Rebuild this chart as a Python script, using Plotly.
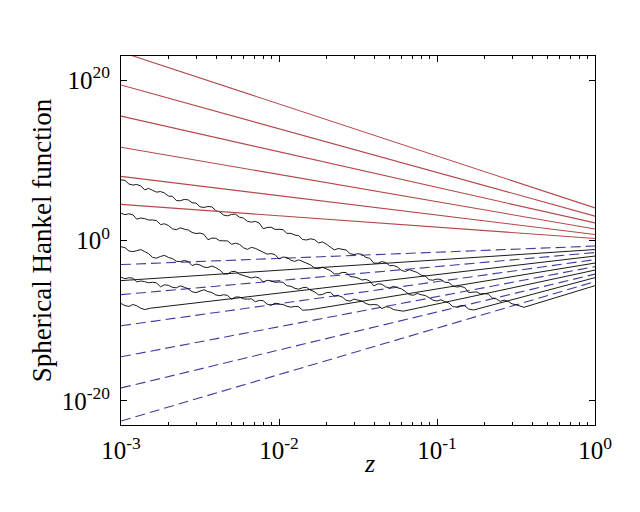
import plotly.graph_objects as go

# plot spans z = 10^-3 .. 10^0, all values below are log10 exponents
Z_LEFT = -3.0
Z_RIGHT = 0.0

# red solid lines (value at z=1e-3, value at z=1)
RED_LEFT = [4.50, 8.00, 11.63, 15.50, 19.38, 23.50]
RED_RIGHT = [0.25, 0.75, 1.44, 2.19, 3.04, 4.06]

# blue dashed lines
BLUE_LEFT = [-3.00, -6.75, -10.63, -14.50, -18.38, -22.50]
BLUE_RIGHT = [-0.69, -1.50, -2.38, -3.25, -4.19, -5.13]

# black lines: noisy at small z, then smooth up to z=1
BLACK_RIGHT = [-1.13, -1.94, -2.81, -3.69, -4.63, -5.63]
BLACK_START_Z = [-3.000, -2.813, -1.805, -1.212, -0.768, -0.450]
BLACK_START_V = [-5.00, -8.44, -8.64, -8.81, -8.66, -8.33]

NOISE_Z = [-3.000, -2.975, -2.950, -2.925, -2.900, -2.875, -2.850, -2.825, -2.800, -2.775,
           -2.750, -2.725, -2.700, -2.675, -2.650, -2.625, -2.600, -2.575, -2.550, -2.525,
           -2.500, -2.475, -2.450, -2.425, -2.400, -2.375, -2.350, -2.325, -2.300, -2.275,
           -2.250, -2.225, -2.200, -2.175, -2.150, -2.125, -2.100, -2.075, -2.050, -2.025,
           -2.000, -1.975, -1.950, -1.925, -1.900, -1.875, -1.850, -1.825, -1.800, -1.775,
           -1.750, -1.725, -1.700, -1.675, -1.650, -1.625, -1.600, -1.575, -1.550, -1.525,
           -1.500, -1.475, -1.450, -1.425, -1.400, -1.375, -1.350, -1.325, -1.300, -1.275,
           -1.250, -1.225, -1.200, -1.175, -1.150, -1.125, -1.100, -1.075, -1.050, -1.025,
           -1.000, -0.975, -0.950, -0.925, -0.900, -0.875, -0.850, -0.825, -0.800, -0.775,
           -0.750, -0.725, -0.700, -0.675, -0.650, -0.625, -0.600, -0.575, -0.550, -0.525,
           -0.500]

NOISE_1 = [7.55, 7.50, 7.04, 6.91, 6.98, 6.80, 6.32, 6.49, 6.26, 6.03,
           6.10, 5.92, 5.54, 5.51, 4.98, 4.95, 5.12, 5.07, 4.71, 4.66,
           4.20, 4.12, 4.24, 4.19, 3.73, 3.55, 3.17, 3.07, 3.26, 3.28,
           2.90, 2.80, 2.39, 2.29, 2.38, 2.18, 1.47, 1.62, 1.66, 1.38,
           1.40, 1.35, 0.89, 0.89, 0.68, 0.60, 0.12, 0.07, 0.21, 0.11,
           -0.30, -0.18, -0.46, -0.87, -1.17, -1.00, -1.13, -1.19, -1.64, -1.75,
           -1.65, -1.73, -2.11, -2.22, -2.82, -2.83, -2.63, -2.74, -3.14, -3.12,
           -3.30, -3.73, -3.86, -3.64, -3.82, -3.98, -4.33, -4.41, -4.89, -4.95,
           -4.80, -4.86, -5.21, -5.24, -5.67, -5.80, -5.73, -5.86, -6.49, -6.40,
           -6.40, -6.66, -6.61, -6.69, -7.17, -7.28, -7.58, -7.44, -7.59, -7.90,
           -8.00]
NOISE_2 = [3.40, 3.22, 3.33, 3.20, 2.66, 2.80, 2.73, 2.55, 2.56, 2.48,
           1.99, 2.08, 1.87, 1.46, 1.34, 1.58, 1.42, 1.31, 1.00, 0.87,
           0.93, 0.77, 0.10, 0.29, 0.28, -0.03, -0.04, -0.06, -0.47, -0.33,
           -0.49, -0.90, -1.11, -0.85, -0.98, -1.17, -1.46, -1.70, -1.63, -1.77,
           -2.30, -2.06, -2.12, -2.46, -2.60, -2.41, -2.62, -2.73, -3.04, -3.43,
           -3.51, -3.33, -3.54, -3.75, -4.16, -4.17, -3.98, -3.99, -4.50, -4.54,
           -4.68, -4.92, -4.85, -5.06, -5.67, -5.41, -5.44, -5.78, -5.92, -5.71,
           -5.89, -6.03, -6.36, -6.75, -6.83, -6.60, -6.76, -6.85, -7.13, -7.44,
           -7.55, -7.39, -7.62, -7.79, -8.25, -8.29, -8.12, -8.13, -8.54]
NOISE_3 = [-0.78, -0.89, -1.30, -1.39, -1.27, -1.13, -1.39, -1.65, -2.11, -2.20,
           -1.99, -1.85, -2.11, -2.25, -2.58, -2.64, -2.50, -2.61, -3.12, -2.94,
           -3.05, -3.31, -3.37, -3.18, -3.39, -3.68, -4.16, -4.17, -3.88, -3.85,
           -4.21, -4.35, -4.58, -4.67, -4.55, -4.66, -5.17, -4.96, -5.04, -5.21,
           -5.17, -5.21, -5.64, -5.70, -5.96, -6.07, -5.88, -5.84, -6.20, -6.39,
           -6.78, -6.74, -6.50, -6.46, -6.92, -6.88, -7.04, -7.45, -7.56, -7.30,
           -7.44, -7.55, -7.86, -8.02, -7.98, -8.04, -8.50, -8.26, -8.32, -8.61,
           -8.70]
NOISE_4 = [-4.58, -4.76, -4.64, -4.70, -5.16, -5.05, -5.13, -5.27, -5.20, -5.29,
           -5.77, -5.53, -5.58, -5.84, -5.90, -5.66, -5.82, -6.01, -6.39, -6.50,
           -6.31, -6.14, -6.37, -6.48, -6.79, -6.88, -6.76, -6.85, -7.33, -7.04,
           -7.05, -7.28, -7.31, -7.27, -7.63, -7.47, -7.50, -7.94, -8.07, -7.81,
           -7.94, -7.97, -8.20, -8.31, -8.22, -8.26, -8.69]
NOISE_5 = [-7.85, -8.12, -8.22, -7.98, -8.14, -8.45, -8.61]

BLACK_NOISE = [[], NOISE_5, NOISE_4, NOISE_3, NOISE_2, NOISE_1]

RED = '#b5474b'
BLUE = '#3c3c9c'
FONT = 'Liberation Serif'

fig = go.Figure()

for a, b in zip(BLUE_LEFT, BLUE_RIGHT):
    fig.add_trace(go.Scatter(
        x=[10 ** Z_LEFT, 10 ** Z_RIGHT],
        y=[10 ** a, 10 ** b],
        mode='lines',
        line=dict(color=BLUE, width=1.1, dash='10px,5px')
    ))

for noise, z0, v0, b in zip(BLACK_NOISE, BLACK_START_Z, BLACK_START_V, BLACK_RIGHT):
    xs = [10 ** z for z in NOISE_Z[:len(noise)]] + [10 ** z0, 10 ** Z_RIGHT]
    ys = [10 ** v for v in noise] + [10 ** v0, 10 ** b]
    fig.add_trace(go.Scatter(
        x=xs, y=ys,
        mode='lines',
        line=dict(color='black', width=0.9)
    ))

for a, b in zip(RED_LEFT, RED_RIGHT):
    fig.add_trace(go.Scatter(
        x=[10 ** Z_LEFT, 10 ** Z_RIGHT],
        y=[10 ** a, 10 ** b],
        mode='lines',
        line=dict(color=RED, width=1.1)
    ))

axis_style = dict(
    type='log',
    showgrid=False,
    zeroline=False,
    showline=True,
    linecolor='black',
    linewidth=1,
    mirror='ticks',
    ticks='inside',
    ticklen=6,
    tickcolor='black',
    tickfont=dict(family=FONT, size=25, color='black'),
)

# the page adds ~8px of body margin, so the margins are trimmed to keep the box in place
fig.update_layout(
    width=640,
    height=512,
    showlegend=False,
    paper_bgcolor='white',
    plot_bgcolor='white',
    margin=dict(l=113, r=53, t=48, b=95),
    xaxis=dict(
        axis_style,
        range=[Z_LEFT, Z_RIGHT],
        tickvals=[1e-3, 1e-2, 1e-1, 1],
        ticktext=['10<sup>-3</sup>', '10<sup>-2</sup>', '10<sup>-1</sup>', '10<sup>0</sup>'],
        ticklabelstandoff=3,
        minor=dict(ticks='inside', ticklen=3, tickcolor='black', dtick='D1'),
    ),
    yaxis=dict(
        axis_style,
        range=[-23, 23],
        tickvals=[1e-20, 1, 1e20],
        ticktext=['10<sup>-20</sup>', '10<sup>0</sup>', '10<sup>20</sup>'],
        ticklabelstandoff=5,
        title=dict(text='Spherical Hankel function', font=dict(family=FONT, size=27, color='black'), standoff=2),
    ),
    annotations=[dict(
        text='<i>z</i>', xref='paper', yref='paper', x=0.525, y=-0.103,
        xanchor='center', yanchor='middle', showarrow=False,
        font=dict(family=FONT, size=26, color='black'),
    )],
)

fig.write_html("out.html")
